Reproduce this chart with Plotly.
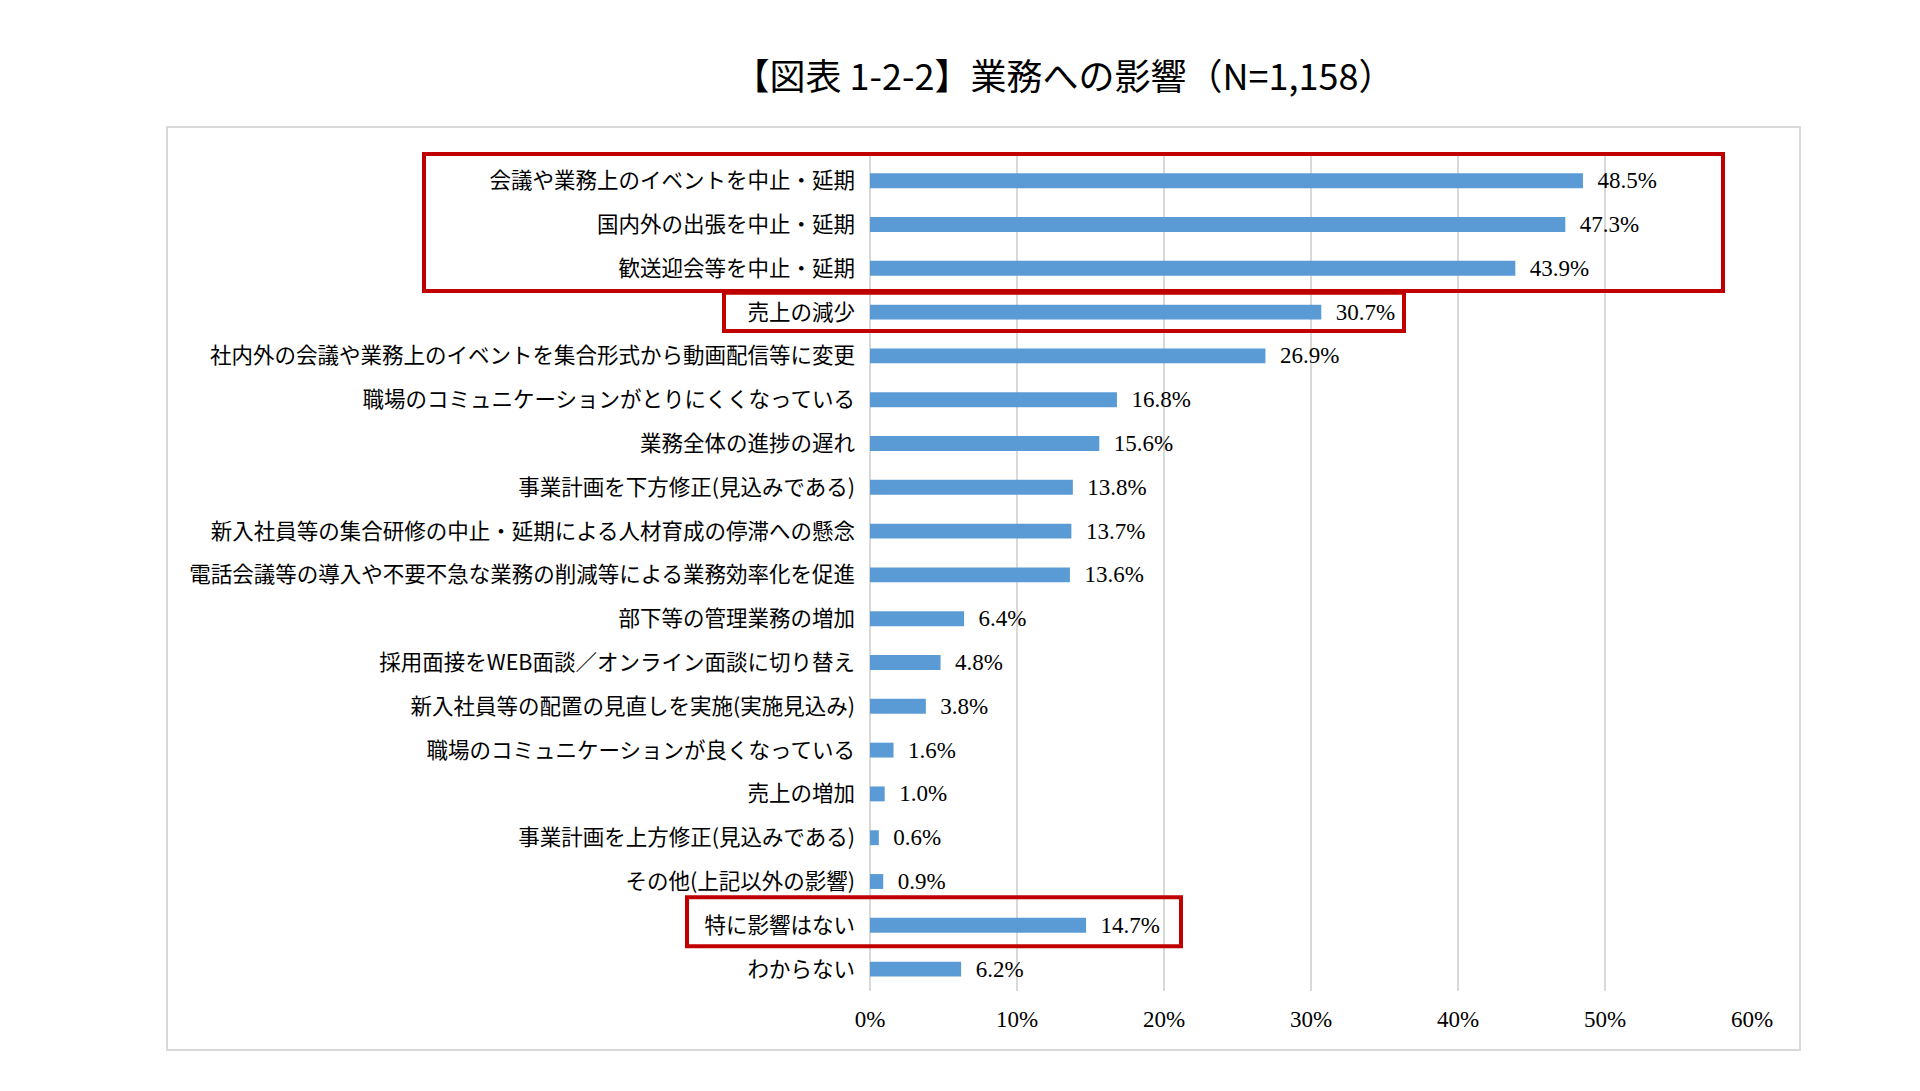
import plotly.graph_objects as go

categories = [
    "会議や業務上のイベントを中止・延期",
    "国内外の出張を中止・延期",
    "歓送迎会等を中止・延期",
    "売上の減少",
    "社内外の会議や業務上のイベントを集合形式から動画配信等に変更",
    "職場のコミュニケーションがとりにくくなっている",
    "業務全体の進捗の遅れ",
    "事業計画を下方修正(見込みである)",
    "新入社員等の集合研修の中止・延期による人材育成の停滞への懸念",
    "電話会議等の導入や不要不急な業務の削減等による業務効率化を促進",
    "部下等の管理業務の増加",
    "採用面接をWEB面談／オンライン面談に切り替え",
    "新入社員等の配置の見直しを実施(実施見込み)",
    "職場のコミュニケーションが良くなっている",
    "売上の増加",
    "事業計画を上方修正(見込みである)",
    "その他(上記以外の影響)",
    "特に影響はない",
    "わからない",
]
values = [48.5, 47.3, 43.9, 30.7, 26.9, 16.8, 15.6, 13.8, 13.7, 13.6,
          6.4, 4.8, 3.8, 1.6, 1.0, 0.6, 0.9, 14.7, 6.2]
x_ticks = [0, 10, 20, 30, 40, 50, 60]
x_tick_labels = [f"{t}%" for t in x_ticks]
title_text = "【図表 1-2-2】業務への影響（N=1,158）"

# highlighted groups: (first category index, last category index)
highlight_groups = [(0, 2), (3, 3), (17, 17)]

W, H = 1920, 1091
L, R, T, B = 862, 176, 144, 108
PW, PH = W - L - R, H - T - B

def px_x(px):
    return (px - L) / PW

def px_y(py):
    return (H - B - py) / PH

JP = "Noto Sans CJK JP, sans-serif"
NUM = "Liberation Serif, serif"

fig = go.Figure()
fig.add_trace(go.Bar(
    y=categories,
    x=values,
    orientation="h",
    marker=dict(color="#5B9BD5", line=dict(width=0)),
    width=0.34,
    text=[f"  {v:.1f}%" for v in values],
    textposition="outside",
    constraintext="none",
    textfont=dict(family=NUM, size=23, color="#000000"),
    cliponaxis=False,
    hoverinfo="skip",
))

shapes = []
# outer chart border
shapes.append(dict(type="rect", xref="paper", yref="paper",
                   x0=px_x(159), x1=px_x(1792), y0=px_y(1042), y1=px_y(119),
                   line=dict(color="#D9D9D9", width=2), layer="below"))

box_x = [(416, 1715), (716, 1396), (679, 1173)]
box_pad = [(0.61, 0.52), (0.44, 0.43), (0.64, 0.48)]
for (a, b), (x0, x1), (pt, pb) in zip(highlight_groups, box_x, box_pad):
    shapes.append(dict(type="rect", xref="paper", yref="y",
                       x0=px_x(x0), x1=px_x(x1), y0=a - pt, y1=b + pb,
                       line=dict(color="#C00000", width=4), layer="above"))

fig.update_layout(
    width=W, height=H,
    margin=dict(l=L, r=R, t=T, b=B, autoexpand=False),
    paper_bgcolor="white",
    plot_bgcolor="white",
    showlegend=False,
    title=dict(text=title_text, x=1056 / W, xanchor="center",
               y=1 - 69 / H, yanchor="middle", xref="container", yref="container",
               font=dict(family=JP, size=36, color="#000000")),
    xaxis=dict(range=[0, 60], tickvals=x_ticks, ticktext=x_tick_labels,
               showgrid=True, gridcolor="#D9D9D9", gridwidth=1.5,
               zeroline=True, zerolinecolor="#D9D9D9", zerolinewidth=1.5,
               showline=False, ticks="", ticklabelstandoff=12,
               tickfont=dict(family=NUM, size=23, color="#000000")),
    yaxis=dict(autorange="reversed", showgrid=False, showline=False, ticks="",
               ticklabelstandoff=14,
               tickfont=dict(family=JP, size=21.5, color="#000000")),
    shapes=shapes,
    bargap=0.66,
)

fig.write_html("out.html")
